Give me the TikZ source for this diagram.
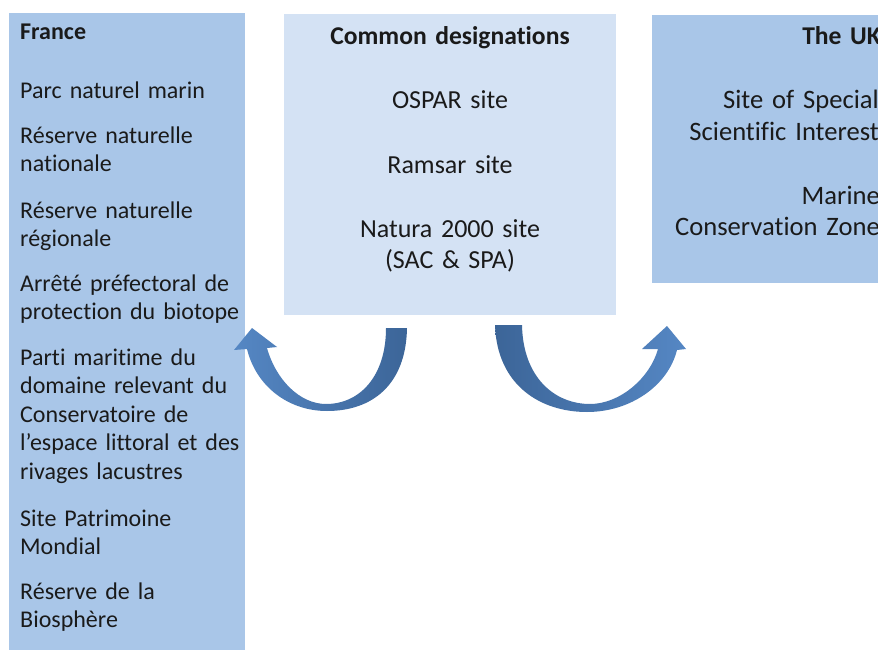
\documentclass[tikz,border=0pt]{standalone}
\usepackage{fontspec}
\setmainfont{Carlito}[Ligatures={TeX,NoCommon}]
\definecolor{boxblue}{HTML}{A9C6E8}
\definecolor{paleblue}{HTML}{D4E2F4}
\definecolor{arrowdark}{HTML}{3C6598}
\definecolor{arrowlight}{HTML}{5587C4}
\definecolor{ink}{HTML}{1A1A1A}

\begin{document}
\begin{tikzpicture}[x=1pt,y=-1pt,
  panel/.style={fill=boxblue, draw=none, inner sep=0, anchor=north west},
  palepanel/.style={panel, fill=paleblue},
  leftitem/.style={anchor=base west, inner sep=0, text width=232pt, align=left,
    text=ink, font=\fontsize{24}{28.5}\selectfont},
  miditem/.style={anchor=base, inner sep=0, text width=320pt, align=center,
    text=ink, font=\fontsize{26}{31}\selectfont},
  rightitem/.style={anchor=base east, inner sep=0, text width=230pt, align=right,
    text=ink, font=\fontsize{26.6}{32}\selectfont}]
\useasboundingbox (0,0) rectangle (878,650);
\clip (0,0) rectangle (878,650);
\fill[white] (0,0) rectangle (878,650);

% three panels
\node[panel, minimum width=236pt, minimum height=650pt] (france) at (9,13) {};
\node[palepanel, minimum width=332pt, minimum height=301pt] (common) at (284,14) {};
\node[panel, minimum width=260pt, minimum height=268pt] (uk) at (652,15) {};

% France column
\node[leftitem, font=\fontsize{24}{28}\selectfont\bfseries] (frtitle) at (20,40) {France};
\node[leftitem] (fr1) at (20,99) {Parc naturel marin};
\node[leftitem] (fr2) at (20,143) {Réserve naturelle\\nationale};
\node[leftitem] (fr3) at (20,218) {Réserve naturelle\\régionale};
\node[leftitem] (fr4) at (20,291) {Arrêté préfectoral de\\protection du biotope};
\node[leftitem] (fr5) at (20,365) {Parti maritime du\\domaine relevant du\\Conservatoire de\\l'espace littoral et des\\rivages lacustres};
\node[leftitem] (fr6) at (20,526) {Site Patrimoine\\Mondial};
\node[leftitem] (fr7) at (20,599) {Réserve de la\\Biosphère};

% common designations
\node[miditem, font=\fontsize{25.6}{30}\selectfont\bfseries] (cmtitle) at (450,45) {Common designations};
\node[miditem] (cm1) at (450,109) {OSPAR site};
\node[miditem] (cm2) at (450,173) {Ramsar site};
\node[miditem] (cm3) at (450,237) {Natura 2000 site\\(SAC \& SPA)};

% UK column, running past the right edge
\node[rightitem, font=\fontsize{25.6}{30}\selectfont\bfseries] (uktitle) at (881,45) {The UK};
\node[rightitem] (uk1) at (879,109) {Site of Special\\Scientific Interest};
\node[rightitem] (uk2) at (880,204) {Marine\\Conservation Zone};

% curved arrow towards France
\shade[left color=arrowlight, right color=arrowdark]
  (407,328) .. controls (406,385) and (372,411) .. (327,411)
  .. controls (288,411) and (256,386) .. (247,349)
  -- (234,350) -- (252,328) -- (277,347) -- (267,348)
  .. controls (276,380) and (300,404) .. (326,404)
  .. controls (360,404) and (386,376) .. (386,328) -- cycle;

% curved arrow towards the UK
\shade[left color=arrowdark, right color=arrowlight]
  (495,325) .. controls (497,385) and (540,412) .. (587,412)
  .. controls (630,412) and (668,386) .. (677,350)
  -- (686,349) -- (667,326) -- (642,349) -- (658,349)
  .. controls (650,378) and (620,404) .. (590,404)
  .. controls (555,404) and (523,378) .. (522,325) -- cycle;
\end{tikzpicture}
\end{document}
